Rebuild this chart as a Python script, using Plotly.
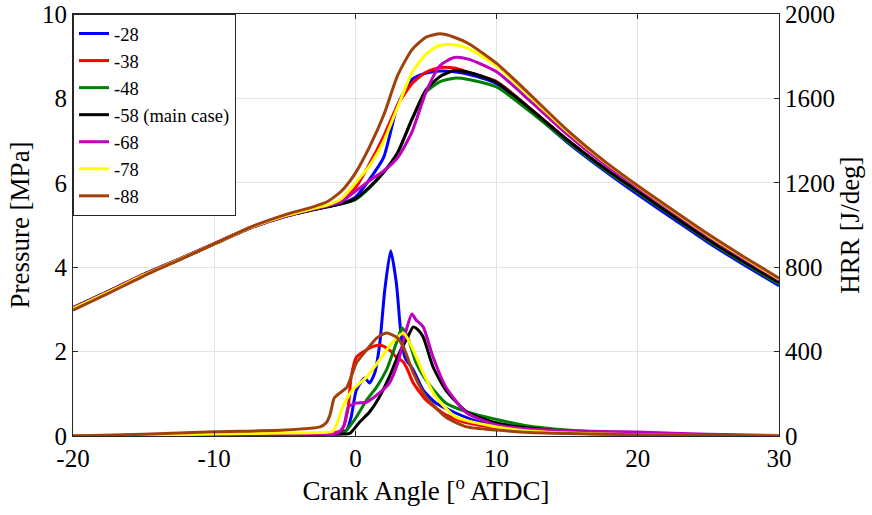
import plotly.graph_objects as go

# ---------------- data ----------------
case_names = ["-28", "-38", "-48", "-58 (main case)", "-68", "-78", "-88"]
case_colors = ["#0000FF", "#FF0000", "#008000", "#000000", "#BF00BF", "#FFFF00", "#A0400A"]

# Pressure [MPa] vs crank angle
p_angle = [-20, -17.5, -15, -12.5, -10, -7.5, -5, -3, -2, -1, 0, 1, 2, 3, 4, 5, 6, 7, 8,
           10, 12.5, 15, 17.5, 20, 22.5, 25, 27.5, 30]
p_28 = [3.04, 3.43, 3.83, 4.19, 4.56, 4.93, 5.21, 5.37, 5.44, 5.50, 5.66, 6.08, 6.60, 7.85, 8.45, 8.60,
        8.65, 8.63, 8.57, 8.35, 7.68, 6.96, 6.32, 5.72, 5.15, 4.58, 4.06, 3.56]
p_38 = [3.04, 3.43, 3.83, 4.19, 4.56, 4.93, 5.21, 5.37, 5.45, 5.55, 5.88, 6.45, 7.10, 7.85, 8.35, 8.62,
        8.73, 8.72, 8.62, 8.40, 7.73, 7.02, 6.38, 5.80, 5.22, 4.65, 4.12, 3.63]
p_48 = [3.03, 3.42, 3.82, 4.18, 4.55, 4.92, 5.20, 5.36, 5.43, 5.50, 5.60, 5.88, 6.25, 6.72, 7.50, 8.15,
        8.40, 8.48, 8.45, 8.27, 7.65, 6.98, 6.35, 5.77, 5.20, 4.62, 4.10, 3.60]
p_58 = [3.03, 3.42, 3.82, 4.18, 4.55, 4.92, 5.20, 5.36, 5.43, 5.50, 5.62, 5.90, 6.25, 6.72, 7.50, 8.20,
        8.52, 8.66, 8.62, 8.38, 7.72, 7.02, 6.38, 5.80, 5.22, 4.65, 4.13, 3.64]
p_68 = [3.03, 3.42, 3.82, 4.18, 4.55, 4.92, 5.20, 5.37, 5.45, 5.55, 5.80, 6.05, 6.28, 6.60, 7.20, 8.15,
        8.78, 8.97, 8.93, 8.63, 7.90, 7.15, 6.48, 5.88, 5.30, 4.73, 4.20, 3.70]
p_78 = [3.02, 3.41, 3.81, 4.18, 4.55, 4.93, 5.22, 5.39, 5.47, 5.62, 6.00, 6.40, 6.98, 7.80, 8.60, 9.05,
        9.26, 9.27, 9.18, 8.77, 8.00, 7.22, 6.53, 5.92, 5.33, 4.76, 4.23, 3.72]
p_88 = [2.98, 3.38, 3.79, 4.17, 4.55, 4.94, 5.24, 5.43, 5.55, 5.80, 6.23, 6.85, 7.60, 8.55, 9.15, 9.45,
        9.53, 9.45, 9.30, 8.83, 8.05, 7.25, 6.55, 5.93, 5.35, 4.78, 4.25, 3.74]

# Heat release rate [J/deg] vs crank angle
h_x_28 = [-20, -15, -10, -5, -2, -1, -0.6, -0.3, 0.07, 0.66, 1.0, 1.37, 1.73, 2.08, 2.5, 2.9, 3.2, 3.5,
          4.1, 4.8, 5.7, 7.1, 8.8, 10, 12, 15, 20, 25, 30]
h_y_28 = [0, 3, 8, 10, 12, 18, 30, 90, 218, 275, 251, 299, 441, 692, 878, 725, 502, 374,
          313, 218, 156, 109, 66, 50, 30, 18, 8, 3, 0]
h_x_38 = [-20, -15, -10, -5, -2, -1, -0.54, -0.3, 0.07, 0.55, 1.0, 1.73, 2.4, 2.9, 3.4, 3.7, 4.1,
          5.0, 6.4, 7.9, 10, 12, 15, 20, 25, 30]
h_y_38 = [0, 3, 8, 10, 12, 25, 123, 280, 374, 398, 417, 431, 408, 374, 351, 313, 251,
          171, 100, 62, 38, 25, 14, 6, 2, 0]
h_x_48 = [-20, -15, -10, -5, -2, -1, -0.66, 0.07, 0.8, 1.5, 2.2, 2.9, 3.3, 3.7, 4.3, 5.0, 6.4, 7.9,
          10, 12, 15, 20, 25, 30]
h_y_48 = [0, 3, 8, 10, 10, 10, 25, 90, 171, 232, 313, 441, 512, 469, 346, 265, 156, 114,
          78, 50, 28, 10, 4, 0]
h_x_58 = [-20, -15, -10, -5, -2, -1, -0.4, 0.3, 1.0, 1.7, 2.4, 3.1, 3.7, 4.1, 4.4, 4.8, 5.5, 6.4,
          7.9, 10, 12, 15, 20, 25, 30]
h_y_58 = [0, 3, 8, 10, 10, 10, 12, 66, 114, 185, 280, 393, 469, 517, 505, 469, 327, 218,
          114, 62, 40, 22, 9, 3, 0]
h_x_68 = [-20, -15, -10, -5, -2, -1.2, -0.8, -0.5, 0.07, 0.8, 1.7, 2.4, 3.0, 3.6, 4.0, 4.3, 4.8,
          5.5, 6.4, 7.9, 10, 12, 15, 20, 25, 30]
h_y_68 = [0, 3, 8, 10, 12, 15, 50, 137, 156, 161, 204, 251, 346, 502, 578, 550, 517,
          374, 232, 109, 52, 35, 25, 19, 8, 2]
h_x_78 = [-20, -15, -10, -5, -2, -1.6, -1.3, -0.9, -0.2, 0.8, 1.7, 2.6, 3.4, 4.0, 4.8, 5.7, 7.1,
          10, 12, 15, 20, 25, 30]
h_y_78 = [0, 4, 10, 14, 18, 22, 60, 137, 218, 280, 360, 441, 488, 422, 299, 185, 90,
          43, 25, 14, 6, 2, 0]
h_x_88 = [-20, -15, -10, -5, -2.5, -2.1, -1.8, -1.5, -1.1, -0.6, 0.07, 0.8, 1.5, 2.2, 2.9, 3.4,
          4.1, 5.0, 6.4, 7.9, 10, 12, 15, 20, 25, 30]
h_y_88 = [0, 8, 20, 28, 43, 60, 100, 180, 204, 232, 346, 408, 464, 488, 469, 422,
          299, 185, 90, 43, 28, 18, 12, 6, 3, 0]

p_series = [p_28, p_38, p_48, p_58, p_68, p_78, p_88]
h_x_series = [h_x_28, h_x_38, h_x_48, h_x_58, h_x_68, h_x_78, h_x_88]
h_y_series = [h_y_28, h_y_38, h_y_48, h_y_58, h_y_68, h_y_78, h_y_88]

x_ticks = [-20, -10, 0, 10, 20, 30]
p_ticks = [0, 2, 4, 6, 8, 10]
h_ticks = [0, 400, 800, 1200, 1600, 2000]

# ---------------- figure ----------------
FONT = "Liberation Serif, Times New Roman, serif"
AXC = "#262626"
GRID = "#e3e3e3"
TICK_SIZE = 25
TITLE_SIZE = 27

fig = go.Figure()
for name, color, p in zip(case_names, case_colors, p_series):
    fig.add_trace(go.Scatter(x=p_angle, y=p, name=name, legendgroup=name, mode="lines",
                             line=dict(color=color, width=3, shape="spline", smoothing=0.6),
                             yaxis="y"))
for name, color, hx, hy in zip(case_names, case_colors, h_x_series, h_y_series):
    fig.add_trace(go.Scatter(x=hx, y=hy, name=name, legendgroup=name, showlegend=False,
                             mode="lines",
                             line=dict(color=color, width=3, shape="spline", smoothing=0.6),
                             yaxis="y2"))

fig.update_layout(
    width=872, height=515,
    margin=dict(l=73, r=93, t=14, b=79),
    paper_bgcolor="white", plot_bgcolor="white",
    font=dict(family=FONT, size=TICK_SIZE, color="#000000"),
    showlegend=True,
    legend=dict(x=0, y=1, xanchor="left", yanchor="top",
                bgcolor="white", bordercolor=AXC, borderwidth=1,
                font=dict(family=FONT, size=18.5, color="#000000"),
                tracegroupgap=0, itemwidth=30),
    xaxis=dict(range=[-20, 30], tickvals=x_ticks, ticktext=[str(v) for v in x_ticks],
               showgrid=True, gridcolor=GRID, gridwidth=1, zeroline=False,
               showline=True, linecolor=AXC, linewidth=1, mirror="ticks",
               ticks="inside", ticklen=5, tickcolor=AXC, automargin=False,
               title=dict(text="Crank Angle [<sup>o</sup> ATDC]", font=dict(size=TITLE_SIZE), standoff=8),
               tickfont=dict(size=TICK_SIZE)),
    yaxis=dict(range=[0, 10], tickvals=p_ticks, ticktext=[str(v) for v in p_ticks],
               showgrid=True, gridcolor=GRID, gridwidth=1, zeroline=False,
               showline=True, linecolor=AXC, linewidth=1,
               ticks="inside", ticklen=5, tickcolor=AXC, automargin=False,
               title=dict(text="Pressure [MPa]", font=dict(size=TITLE_SIZE), standoff=4),
               tickfont=dict(size=TICK_SIZE)),
    yaxis2=dict(range=[0, 2000], tickvals=h_ticks, ticktext=[str(v) for v in h_ticks],
                overlaying="y", side="right", showgrid=False, zeroline=False,
                showline=True, linecolor=AXC, linewidth=1,
                ticks="inside", ticklen=5, tickcolor=AXC, automargin=False,
                title=dict(text="HRR [J/deg]", font=dict(size=TITLE_SIZE), standoff=4),
                tickfont=dict(size=TICK_SIZE)),
)

fig.write_html("out.html")
